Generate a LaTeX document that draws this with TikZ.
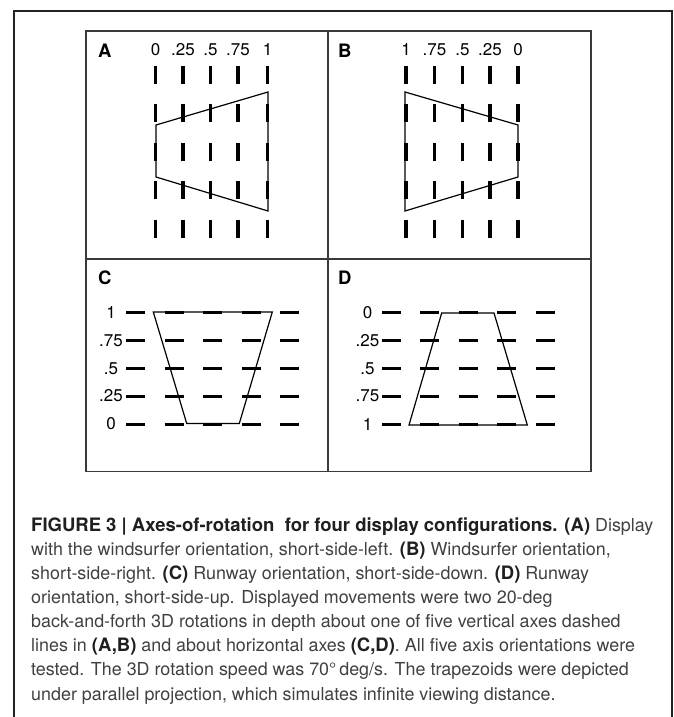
\documentclass[tikz,border=0pt]{standalone}
\usepackage{fontspec}
\setmainfont{TeX Gyre Heros}
\usetikzlibrary{positioning}
\definecolor{framegray}{HTML}{222222}
\definecolor{boxgray}{HTML}{3A3A3A}
\definecolor{captext}{HTML}{404040}
\newcommand{\capb}[1]{{\fontsize{18.5}{24}\selectfont\bfseries\textcolor{black!88}{#1}}}
\tikzset{
    panel/.style={
        font=\fontsize{18.5}{22}\selectfont\bfseries,
        anchor=base west,
        inner sep=0pt
    },
    capline/.style={
        font=\fontsize{17.9}{24}\selectfont,
        text=captext,
        anchor=base west,
        inner sep=0pt
    }
}

\begin{document}
\begin{tikzpicture}[
  x=1pt, y=-1pt,
  tick/.style  = {font=\fontsize{17}{20}\selectfont, inner sep=0pt},
  vtick/.style = {tick, anchor=base},
  htick/.style = {tick, anchor=center},
  vaxis/.style = {line width=3.2pt, dash pattern=on 18pt off 20.4pt},
  haxis/.style = {line width=3pt, dash pattern=on 19pt off 19.5pt},
  trap/.style  = {line width=1.2pt, line join=miter},
  frame/.style = {line width=2.4pt, draw=framegray},
  box/.style   = {line width=1.5pt, draw=boxgray},
]
\useasboundingbox (0,0) rectangle (673,717);

% frame and panel grid
\draw[frame] (14,717) -- (14,11) -- (672,11) -- (672,717);
\draw[box] (86,31) rectangle (591,471.5);
\draw[box] (328,31) -- (328,471.5);
\draw[box] (86,259) -- (591,259);

% panel A
\node[panel] (lab-a) at (98,57) {A};
\node[vtick] (a0)   at (155.5,56) {0};
\node[vtick] (a25)  at (183,56)   {.25};
\node[vtick] (a50)  at (210.5,56) {.5};
\node[vtick] (a75)  at (238,56)   {.75};
\node[vtick] (a100) at (267.5,56) {1};
\draw[vaxis] (155.5,66) -- (155.5,240);
\draw[vaxis] (183,66)   -- (183,240);
\draw[vaxis] (210.5,66) -- (210.5,240);
\draw[vaxis] (238,66)   -- (238,240);
\draw[vaxis] (267.5,66) -- (267.5,240);
\draw[trap] (156,125) -- (268,92) -- (268,211) -- (156,177) -- cycle;

% panel B
\node[panel] (lab-b) at (338,57) {B};
\node[vtick] (b100) at (406,56)   {1};
\node[vtick] (b75)  at (434.5,56) {.75};
\node[vtick] (b50)  at (462.5,56) {.5};
\node[vtick] (b25)  at (490,56)   {.25};
\node[vtick] (b0)   at (518,56)   {0};
\draw[vaxis] (406,66)   -- (406,240);
\draw[vaxis] (434.5,66) -- (434.5,240);
\draw[vaxis] (462.5,66) -- (462.5,240);
\draw[vaxis] (490,66)   -- (490,240);
\draw[vaxis] (518,66)   -- (518,240);
\draw[trap] (405,92) -- (518,125) -- (518,177) -- (405,211) -- cycle;

% panel C
\node[panel] (lab-c) at (98,284.5) {C};
\node[htick] (c100) at (111,312.5) {1};
\node[htick] (c75)  at (111,340.5) {.75};
\node[htick] (c50)  at (111,368.3) {.5};
\node[htick] (c25)  at (111,396)   {.25};
\node[htick] (c0)   at (111,424)   {0};
\draw[haxis] (126,312.5) -- (300,312.5);
\draw[haxis] (126,340.5) -- (300,340.5);
\draw[haxis] (126,368.3) -- (300,368.3);
\draw[haxis] (126,396)   -- (300,396);
\draw[haxis] (126,424)   -- (300,424);
\draw[trap] (153.3,312) -- (272.3,312) -- (239.3,423.5) -- (186.7,423.5) -- cycle;

% panel D
\node[panel] (lab-d) at (338,284.5) {D};
\node[htick] (d0)   at (367.5,312.5) {0};
\node[htick] (d25)  at (367.5,340.5) {.25};
\node[htick] (d50)  at (367.5,368.3) {.5};
\node[htick] (d75)  at (367.5,396)   {.75};
\node[htick] (d100) at (367.5,424)   {1};
\draw[haxis] (381.7,312.5) -- (555,312.5);
\draw[haxis] (381.7,340.5) -- (555,340.5);
\draw[haxis] (381.7,368.3) -- (555,368.3);
\draw[haxis] (381.7,396)   -- (555,396);
\draw[haxis] (381.7,424)   -- (555,424);
\draw[trap] (441.7,313) -- (494,313) -- (527.3,425) -- (409,425) -- cycle;

% caption
\node[capline] (cap1) at (31,531)   {\capb{FIGURE 3 | Axes-of-rotation\ \ for four display configurations. (A)} Display};
\node[capline] (cap2) at (31,555)   {with the windsurfer orientation, short-side-left. \capb{(B)} Windsurfer orientation,};
\node[capline] (cap3) at (31,579)   {short-side-right. \capb{(C)} Runway orientation, short-side-down. \capb{(D)} Runway};
\node[capline] (cap4) at (31,603)   {orientation, short-side-up. Displayed movements were two 20-deg};
\node[capline] (cap5) at (31,627.5) {back-and-forth 3D rotations in depth about one of five vertical axes dashed};
\node[capline] (cap6) at (31,651.5) {lines in \capb{(A,B)} and about horizontal axes \capb{(C,D)}. All five axis orientations were};
\node[capline] (cap7) at (31,675.5) {tested. The 3D rotation speed was 70°\,deg/s. The trapezoids were depicted};
\node[capline] (cap8) at (31,700)   {under parallel projection, which simulates infinite viewing distance.};

\end{tikzpicture}
\end{document}
